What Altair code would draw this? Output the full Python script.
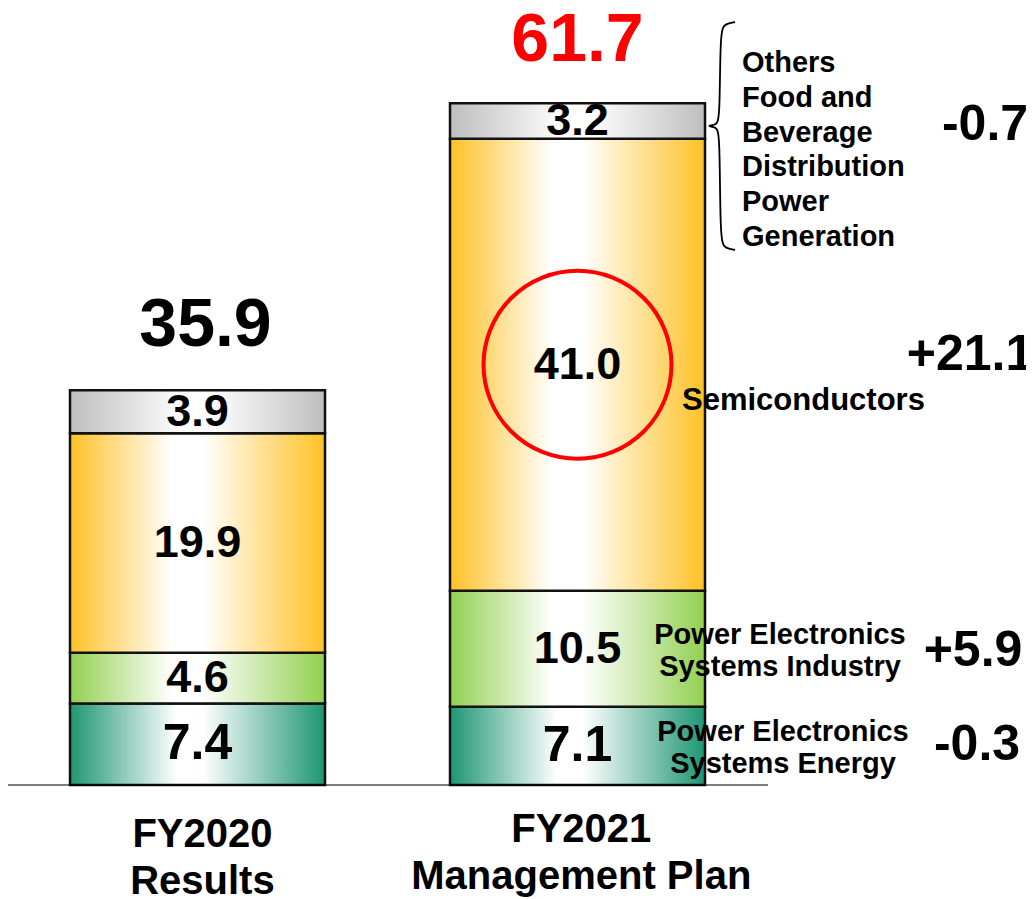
import altair as alt
import pandas as pd

# ---------------- data ----------------
period_labels = ["FY2020\nResults", "FY2021\nManagement Plan"]
segments = ["Power Electronics Systems Energy", "Power Electronics Systems Industry",
            "Semiconductors", "Others"]
fy2020_values = [7.4, 4.6, 19.9, 3.9]
fy2021_values = [7.1, 10.5, 41.0, 3.2]
totals = [35.9, 61.7]
changes = ["-0.3", "+5.9", "+21.1", "-0.7"]
segment_names_right = ["Power Electronics\nSystems Energy", "Power Electronics\nSystems Industry",
                       "Semiconductors", "Others\nFood and\nBeverage\nDistribution\nPower\nGeneration"]

# ---------------- layout ----------------
W, H = 1018, 889
PXU = 11.03              # pixels per value unit
BASE = 777               # baseline (value 0) in plot pixels
STEP = 380.0             # pixels between bar slots
LO = 1 - 189.5 / STEP    # slot-axis value at the left edge
HALF = 127.5 / STEP      # half bar width in slot units
FONT = "Liberation Sans"

def sx(px):   # page-pixel helper for annotation layout -> slot units
    return (px - 8) / STEP + LO

def vy(py):   # page-pixel helper for annotation layout -> value units
    return (785 - py) / PXU

xs = alt.Scale(domain=[LO, LO + W / STEP], nice=False, zero=False)
ys = alt.Scale(domain=[-(H - BASE) / PXU, BASE / PXU], nice=False, zero=False)

colors = {"Power Electronics Systems Energy": "#1E9672",
          "Power Electronics Systems Industry": "#92D050",
          "Semiconductors": "#FFC125",
          "Others": "#BEBEBE"}
white_at = {"Power Electronics Systems Energy": (0.42, 0.52),
            "Power Electronics Systems Industry": (0.40, 0.52),
            "Semiconductors": (0.40, 0.52),
            "Others": (0.45, 0.55)}

rows = []
for p, vals in enumerate([fy2020_values, fy2021_values]):
    pos = p + 1
    acc = 0.0
    for s, v in zip(segments, vals):
        rows.append(dict(period=p, pos=pos, seg=s, x0=pos - HALF, x1=pos + HALF,
                         y0=acc, y1=acc + v, mid=acc + v / 2, label=f"{v:.1f}",
                         fs=50 if s == segments[0] else 45))
        acc += v
seg_df = pd.DataFrame(rows)

def X(f):
    return alt.X(f, type="quantitative", scale=xs, axis=None)

def Y(f):
    return alt.Y(f, type="quantitative", scale=ys, axis=None)

layers = []
for s in segments:
    c = colors[s]
    w0, w1 = white_at[s]
    grad = alt.Gradient(gradient="linear", x1=0, x2=1, y1=0, y2=0,
                        stops=[alt.GradientStop(color=c, offset=0),
                               alt.GradientStop(color="#FFFFFF", offset=w0),
                               alt.GradientStop(color="#FFFFFF", offset=w1),
                               alt.GradientStop(color=c, offset=1)])
    layers.append(alt.Chart(seg_df[seg_df.seg == s]).mark_rect(
        fill=grad, stroke="#111111", strokeWidth=2.5
    ).encode(x=X("x0"), x2="x1", y=Y("y0"), y2="y1"))

# baseline
base_df = pd.DataFrame({"x0": [LO], "x1": [sx(768)], "y": [0.0]})
layers.append(alt.Chart(base_df).mark_rule(color="black", strokeWidth=1.2).encode(
    x=X("x0"), x2="x1", y=Y("y")))

# red circle around the FY2021 semiconductors value
circ_df = seg_df[(seg_df.period == 1) & (seg_df.seg == "Semiconductors")]
layers.append(alt.Chart(circ_df).mark_point(
    shape="circle", size=188 ** 2, filled=False, stroke="#FF0000", strokeWidth=4, opacity=1
).encode(x=X("pos"), y=Y("mid")))

# segment value labels
layers.append(alt.Chart(seg_df).mark_text(
    font=FONT, fontWeight="bold", color="black", align="center", baseline="middle"
).encode(x=X("pos"), y=Y("mid"), text="label:N", size=alt.Size("fs:Q", scale=None)))

# totals
tot_df = pd.DataFrame({"pos": [1.021, 2.0], "y": totals, "label": [f"{t:.1f}" for t in totals],
                       "col": ["#000000", "#FF0000"]})
layers.append(alt.Chart(tot_df).mark_text(
    font=FONT, fontWeight="bold", fontSize=68, align="center", baseline="alphabetic", dy=-43
).encode(x=X("pos"), y=Y("y"), text="label:N", color=alt.Color("col:N", scale=None)))

# period labels below the baseline (y = first line)
per_df = pd.DataFrame({"pos": [1.013, 2.01], "y": [vy(835), vy(830)], "label": period_labels})
layers.append(alt.Chart(per_df).mark_text(
    font=FONT, fontWeight="bold", fontSize=40, align="center", baseline="middle",
    lineBreak="\n", lineHeight=47, color="black"
).encode(x=X("pos"), y=Y("y"), text="label:N"))

# change values on the right
chg_df = pd.DataFrame({"x": [sx(977), sx(973), sx(970), sx(985)],
                       "y": [vy(745), vy(651), vy(355), vy(125)], "label": changes})
layers.append(alt.Chart(chg_df).mark_text(
    font=FONT, fontWeight="bold", fontSize=50, align="center", baseline="middle", color="black"
).encode(x=X("x"), y=Y("y"), text="label:N"))

# segment names on the right (y = first line)
pe_df = pd.DataFrame({"x": [sx(783), sx(780)], "y": [vy(732), vy(635)],
                      "label": segment_names_right[:2]})
layers.append(alt.Chart(pe_df).mark_text(
    font=FONT, fontWeight="bold", fontSize=29, align="center", baseline="middle",
    lineBreak="\n", lineHeight=32, color="black"
).encode(x=X("x"), y=Y("y"), text="label:N"))

semi_df = pd.DataFrame({"x": [sx(682)], "y": [vy(401)], "label": [segment_names_right[2]]})
layers.append(alt.Chart(semi_df).mark_text(
    font=FONT, fontWeight="bold", fontSize=31, align="left", baseline="middle", color="black"
).encode(x=X("x"), y=Y("y"), text="label:N"))

oth_df = pd.DataFrame({"x": [sx(742)], "y": [vy(63)], "label": [segment_names_right[3]]})
layers.append(alt.Chart(oth_df).mark_text(
    font=FONT, fontWeight="bold", fontSize=29, align="left", baseline="middle",
    lineBreak="\n", lineHeight=34.8, color="black"
).encode(x=X("x"), y=Y("y"), text="label:N"))

# curly brace grouping the "Others" businesses
brace_px = [(735, 22), (725, 24), (720, 30), (720, 120), (716, 125), (706, 126),
            (716, 127), (720, 132), (720, 242), (725, 248), (735, 250)]
brace_df = pd.DataFrame({"x": [sx(a) for a, b in brace_px], "y": [vy(b) for a, b in brace_px],
                         "o": list(range(len(brace_px)))})
layers.append(alt.Chart(brace_df).mark_line(color="black", strokeWidth=1.8, interpolate="basis").encode(
    x=X("x"), y=Y("y"), order="o:Q"))

chart = alt.layer(*layers).properties(
    width=W, height=H, padding=0, autosize="none"
).configure_view(stroke=None)

chart.save("out.html", embed_options={"renderer": "svg", "actions": False})
